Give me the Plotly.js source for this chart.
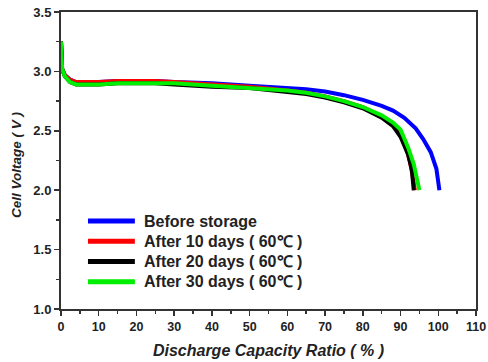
<!DOCTYPE html>
<html><head><meta charset="utf-8">
<script src="https://cdn.plot.ly/plotly-3.0.1.min.js"></script>
<style>body{margin:0;background:#fff}#c{width:488px;height:362px}</style>
</head><body><div id="c"></div>
<script>
const names = ['Before storage', 'After 10 days ( 60\u2103 )', 'After 20 days ( 60\u2103 )', 'After 30 days ( 60\u2103 )'];
const colors = ['#0000ff', '#ff0000', '#000000', '#00ee00'];

const blueX = [0, 0.3, 1, 2.4, 4, 10, 15, 20, 25, 30, 40, 50, 60, 65, 70, 75, 80, 85, 88, 91, 94, 96, 98, 99.5, 100.3];
const blueY = [3.25, 3.02, 2.97, 2.93, 2.91, 2.91, 2.92, 2.92, 2.92, 2.91, 2.90, 2.88, 2.86, 2.85, 2.83, 2.80, 2.76, 2.71, 2.67, 2.61, 2.52, 2.43, 2.32, 2.18, 2.0];

const redX = [0, 0.3, 1, 2.4, 4, 10, 15, 20, 25, 30, 40, 50, 60, 65, 70, 75, 80, 85, 88, 90, 91.5, 92.5, 93.2, 93.8];
const redY = [3.25, 3.02, 2.97, 2.93, 2.91, 2.91, 2.92, 2.92, 2.92, 2.91, 2.89, 2.87, 2.84, 2.82, 2.79, 2.75, 2.70, 2.62, 2.55, 2.46, 2.36, 2.24, 2.12, 2.0];

const blackX = [0, 0.3, 1, 2.4, 4, 10, 15, 20, 25, 30, 40, 50, 60, 65, 70, 75, 80, 85, 88, 90, 92, 93, 93.5];
const blackY = [3.25, 3.02, 2.96, 2.91, 2.89, 2.89, 2.90, 2.90, 2.90, 2.89, 2.87, 2.86, 2.83, 2.81, 2.78, 2.74, 2.69, 2.61, 2.54, 2.45, 2.30, 2.17, 2.0];

const greenX = [0, 0.3, 1, 2.4, 4, 10, 15, 20, 25, 30, 40, 50, 60, 65, 70, 75, 80, 85, 88, 90, 92, 93.5, 94.7, 95];
const greenY = [3.25, 3.02, 2.96, 2.91, 2.89, 2.89, 2.90, 2.90, 2.90, 2.90, 2.88, 2.86, 2.84, 2.82, 2.79, 2.75, 2.70, 2.63, 2.57, 2.51, 2.36, 2.22, 2.06, 2.0];

const xs = [blueX, redX, blackX, greenX];
const ys = [blueY, redY, blackY, greenY];

const traces = names.map((n, i) => ({
  x: xs[i], y: ys[i], name: n, mode: 'lines', type: 'scatter',
  line: {color: colors[i], width: 4}, showlegend: false
}));

const fontFam = 'Arial, "Liberation Sans", sans-serif';

// legend drawn in paper coordinates
const legX0 = 0.065, legX1 = 0.178, legTextX = 0.196, legTop = 0.296, legStep = 0.068;
const shapes = names.map((n, i) => ({
  type: 'line', xref: 'paper', yref: 'paper',
  x0: legX0, x1: legX1, y0: legTop - i * legStep, y1: legTop - i * legStep,
  line: {color: colors[i], width: 5}
}));
const annotations = names.map((n, i) => ({
  text: n, xref: 'paper', yref: 'paper', x: legTextX, y: legTop - i * legStep,
  xanchor: 'left', yanchor: 'middle', showarrow: false,
  font: {family: fontFam, size: 16, color: '#222', weight: 'bold'}
}));
annotations.push({
  text: 'Cell Voltage ( V )', xref: 'paper', yref: 'paper', x: -0.106, y: 0.485,
  xanchor: 'center', yanchor: 'middle', textangle: -90, showarrow: false,
  font: {family: fontFam, size: 13.5, color: '#222', weight: 'bold', style: 'italic'}
});

const axisCommon = {
  showgrid: false, zeroline: false, showline: true, linecolor: '#333', linewidth: 2,
  mirror: true, ticks: 'outside', ticklen: 5, tickwidth: 1.5, tickcolor: '#333',
  minor: {ticks: 'outside', ticklen: 3, tickwidth: 1.5, tickcolor: '#333'}
};

const layout = {
  width: 488, height: 362,
  margin: {l: 61, r: 12, t: 12, b: 53},
  paper_bgcolor: '#fff', plot_bgcolor: '#fff',
  showlegend: false,
  shapes: shapes,
  annotations: annotations,
  xaxis: Object.assign({}, axisCommon, {
    range: [0, 110], tickmode: 'linear', tick0: 0, dtick: 10,
    tickfont: {family: fontFam, size: 12.5, color: '#222', weight: 'bold'},
    minor: Object.assign({}, axisCommon.minor, {dtick: 5}),
    title: {text: 'Discharge Capacity Ratio ( % )', standoff: 12,
      font: {family: fontFam, size: 16, color: '#222', weight: 'bold', style: 'italic'}}
  }),
  yaxis: Object.assign({}, axisCommon, {
    range: [1.0, 3.5], tickmode: 'linear', tick0: 1.0, dtick: 0.5, tickformat: '.1f',
    tickfont: {family: fontFam, size: 13, color: '#222', weight: 'bold'},
    minor: Object.assign({}, axisCommon.minor, {dtick: 0.25})
  })
};

Plotly.newPlot('c', traces, layout, {displayModeBar: false, staticPlot: true});
</script></body></html>
